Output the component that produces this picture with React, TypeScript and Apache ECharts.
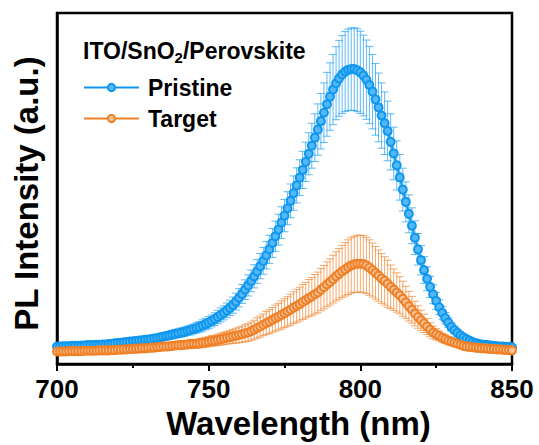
import React, { useEffect, useRef } from "react";
import * as echarts from "echarts";

// Wavelength grid: 700 nm to 850 nm, one point per nm
const WL_START = 700;
const WL_STEP = 1;
const xTicks = [700, 750, 800, 850];
const seriesNames = ["Pristine", "Target"];

// Pristine PL intensity (a.u.) at 700..850 nm
const pristine = [
  50, 50, 51, 51, 51, 52, 52, 52, 53, 53,
  54, 54, 54, 55, 55, 56, 56, 57, 58, 59,
  60, 61, 62, 63, 64, 65, 66, 67, 68, 69,
  70, 71, 73, 74, 76, 78, 80, 82, 84, 86,
  88, 90, 92, 95, 97, 100, 103, 106, 110, 114,
  118, 123, 128, 134, 140, 146, 153, 160, 168, 178,
  189, 200, 212, 224, 237, 250, 264, 279, 294, 310,
  327, 345, 364, 383, 403, 423, 444, 465, 487, 509,
  531, 553, 576, 599, 622, 645, 668, 692, 716, 740,
  762, 782, 800, 814, 825, 833, 838, 840, 840, 837,
  831, 822, 810, 795, 776, 754, 731, 708, 686, 664,
  633, 600, 566, 532, 497, 462, 428, 394, 360, 327,
  296, 268, 243, 220, 199, 180, 162, 146, 131, 118,
  106, 97, 89, 82, 76, 71, 67, 63, 60, 58,
  56, 55, 54, 53, 52, 51, 50, 50, 49, 49,
  48,
];
const pristineErr = [
  6, 7, 6, 7, 6, 7, 6, 7, 7, 6,
  7, 6, 7, 7, 6, 7, 7, 7, 8, 7,
  8, 7, 8, 8, 8, 9, 8, 9, 9, 9,
  10, 9, 10, 10, 11, 10, 11, 11, 12, 12,
  12, 13, 13, 13, 14, 14, 15, 15, 16, 16,
  17, 17, 18, 19, 20, 20, 21, 22, 23, 24,
  26, 27, 28, 30, 31, 33, 34, 36, 38, 39,
  40, 41, 43, 44, 45, 46, 47, 48, 49, 50,
  51, 53, 56, 60, 64, 68, 73, 79, 85, 91,
  96, 100, 104, 108, 111, 114, 116, 117, 118, 118,
  117, 115, 113, 110, 106, 102, 98, 93, 89, 85,
  80, 75, 70, 65, 61, 57, 54, 51, 48, 45,
  42, 38, 34, 30, 27, 24, 21, 18, 16, 14,
  12, 11, 10, 9, 9, 8, 8, 7, 7, 7,
  7, 6, 7, 6, 6, 7, 6, 6, 6, 6,
  6,
];

// Target PL intensity (a.u.) at 700..850 nm
const target = [
  36, 36, 36, 36, 37, 37, 37, 37, 37, 38,
  38, 38, 38, 38, 39, 39, 39, 39, 40, 40,
  41, 41, 42, 42, 43, 43, 44, 44, 45, 45,
  46, 47, 47, 48, 49, 50, 50, 51, 52, 53,
  54, 54, 55, 56, 57, 58, 58, 59, 61, 62,
  64, 66, 67, 69, 71, 73, 75, 77, 79, 81,
  83, 85, 88, 90, 94, 98, 103, 107, 112, 117,
  121, 126, 131, 135, 140, 145, 150, 155, 161, 166,
  171, 177, 182, 188, 193, 199, 204, 212, 219, 227,
  234, 242, 250, 257, 264, 270, 276, 281, 284, 286,
  286, 285, 281, 275, 268, 260, 252, 244, 237, 229,
  220, 212, 204, 196, 186, 176, 165, 155, 144, 134,
  125, 116, 107, 98, 90, 85, 80, 75, 71, 67,
  64, 61, 58, 55, 52, 50, 49, 48, 47, 46,
  45, 45, 44, 43, 43, 42, 42, 41, 40, 40,
  39,
];
const targetErr = [
  4, 3, 4, 4, 3, 4, 4, 3, 4, 4,
  4, 4, 3, 4, 4, 4, 4, 4, 5, 4,
  5, 5, 5, 5, 5, 6, 5, 6, 6, 6,
  6, 7, 7, 7, 8, 8, 8, 9, 9, 10,
  10, 10, 11, 11, 12, 12, 12, 13, 13, 14,
  14, 15, 15, 16, 17, 17, 18, 19, 20, 21,
  22, 23, 24, 25, 26, 27, 29, 30, 31, 33,
  34, 35, 37, 38, 40, 41, 42, 44, 45, 47,
  48, 50, 51, 53, 54, 56, 58, 60, 62, 64,
  66, 68, 70, 72, 74, 76, 78, 79, 80, 81,
  81, 81, 80, 79, 77, 75, 73, 71, 69, 67,
  62, 59, 56, 53, 50, 46, 42, 38, 35, 32,
  29, 26, 23, 20, 18, 16, 14, 13, 12, 11,
  10, 9, 8, 8, 7, 7, 6, 6, 6, 5,
  6, 5, 5, 5, 5, 4, 4, 4, 4, 4,
  4,
];

const BLUE = "#0f97ef";
const BLUE_FILL = "#55b8f6";
const BLUE_ERR = "#2aa3f3";
const ORANGE = "#ef8026";
const ORANGE_FILL = "#f8c29a";
const ORANGE_ERR = "#f28c3a";
const FONT = "'Liberation Sans', Arial, Helvetica, sans-serif";

export default function App() {
  const ref = useRef<HTMLDivElement>(null);

  useEffect(() => {
    document.body.style.margin = "0";
    const chart = echarts.init(ref.current as HTMLDivElement, null, { renderer: "svg" });

    const toPoints = (vals: number[]) => vals.map((v, i) => [WL_START + i * WL_STEP, v]);
    const toErr = (vals: number[], errs: number[]) =>
      vals.map((v, i) => [WL_START + i * WL_STEP, v - errs[i], v + errs[i]]);

    const errRender = (color: string, opacity: number) => (params: any, api: any) => {
      const x = api.value(0);
      const lo = api.coord([x, api.value(1)]);
      const hi = api.coord([x, api.value(2)]);
      const hw = 4;
      const style = { stroke: color, lineWidth: 1, opacity, fill: null };
      return {
        type: "group",
        children: [
          { type: "line", shape: { x1: lo[0], y1: lo[1], x2: hi[0], y2: hi[1] }, style },
          { type: "line", shape: { x1: hi[0] - hw, y1: hi[1], x2: hi[0] + hw, y2: hi[1] }, style },
          { type: "line", shape: { x1: lo[0] - hw, y1: lo[1], x2: lo[0] + hw, y2: lo[1] }, style },
        ],
      };
    };

    const option: any = {
      animation: false,
      backgroundColor: "#fff",
      grid: {
        left: 57,
        right: 27,
        top: 13,
        bottom: 75,
        show: true,
        borderColor: "#000",
        borderWidth: 2.5,
        backgroundColor: "transparent",
      },
      title: {
        text: "{a|ITO/SnO}{sub|2}{a|/Perovskite}",
        left: 83,
        top: 38,
        padding: 0,
        textStyle: {
          rich: {
            a: { fontFamily: FONT, fontSize: 23, fontWeight: "bold", color: "#000", lineHeight: 26 },
            sub: {
              fontFamily: FONT,
              fontSize: 15,
              fontWeight: "bold",
              color: "#000",
              padding: [12, 0, 0, 0],
              lineHeight: 16,
            },
          },
        },
      },
      legend: {
        data: seriesNames,
        orient: "vertical",
        left: 83,
        top: 76,
        padding: 0,
        itemWidth: 55,
        itemHeight: 9,
        itemGap: 8,
        textStyle: { fontFamily: FONT, fontSize: 23, fontWeight: "bold", color: "#000", padding: [0, 0, 0, 4] },
        selectedMode: false,
      },
      xAxis: {
        type: "value",
        min: xTicks[0],
        max: xTicks[xTicks.length - 1],
        interval: xTicks[1] - xTicks[0],
        name: "Wavelength (nm)",
        nameLocation: "middle",
        nameGap: 42,
        nameTextStyle: {
          fontFamily: FONT,
          fontSize: 33,
          fontWeight: "bold",
          color: "#000",
          padding: [0, 0, 0, 28],
        },
        axisLine: { show: true, lineStyle: { color: "#000", width: 2.5 } },
        axisTick: { show: true, inside: false, length: 7, lineStyle: { color: "#000", width: 2 } },
        minorTick: { show: true, splitNumber: 2, length: 4, lineStyle: { color: "#000", width: 2 } },
        splitLine: { show: false },
        minorSplitLine: { show: false },
        axisLabel: {
          fontFamily: FONT,
          fontSize: 26,
          fontWeight: "bold",
          color: "#000",
          margin: 12,
        },
      },
      yAxis: {
        type: "value",
        min: 0,
        max: 1000,
        name: "PL Intensity (a.u.)",
        nameLocation: "middle",
        nameGap: 14,
        nameTextStyle: {
          fontFamily: FONT,
          fontSize: 33,
          fontWeight: "bold",
          color: "#000",
          padding: [0, 10, 0, 0],
        },
        axisLine: { show: true, lineStyle: { color: "#000", width: 2.5 } },
        axisTick: { show: false },
        axisLabel: { show: false },
        splitLine: { show: false },
      },
      series: [
        {
          name: "Pristine err",
          type: "custom",
          renderItem: errRender(BLUE_ERR, 0.75),
          data: toErr(pristine, pristineErr),
          encode: { x: 0, y: [1, 2] },
          z: 2,
          silent: true,
        },
        {
          name: "Target err",
          type: "custom",
          renderItem: errRender(ORANGE_ERR, 0.75),
          data: toErr(target, targetErr),
          encode: { x: 0, y: [1, 2] },
          z: 2,
          silent: true,
        },
        {
          name: seriesNames[0],
          type: "line",
          data: toPoints(pristine),
          symbol: "circle",
          symbolSize: 8,
          showSymbol: true,
          showAllSymbol: true,
          itemStyle: { color: BLUE_FILL, borderColor: BLUE, borderWidth: 2 },
          lineStyle: { color: BLUE, width: 2 },
          emphasis: { disabled: true },
          z: 3,
        },
        {
          name: seriesNames[1],
          type: "line",
          data: toPoints(target),
          symbol: "circle",
          symbolSize: 8,
          showSymbol: true,
          showAllSymbol: true,
          itemStyle: { color: ORANGE_FILL, borderColor: ORANGE, borderWidth: 2 },
          lineStyle: { color: ORANGE, width: 2 },
          emphasis: { disabled: true },
          z: 4,
        },
      ],
    };

    chart.setOption(option);
    return () => {
      chart.dispose();
    };
  }, []);

  return (
    <div
      ref={ref}
      style={{ position: "fixed", left: 0, top: 0, width: 539, height: 445, background: "#fff" }}
    />
  );
}
